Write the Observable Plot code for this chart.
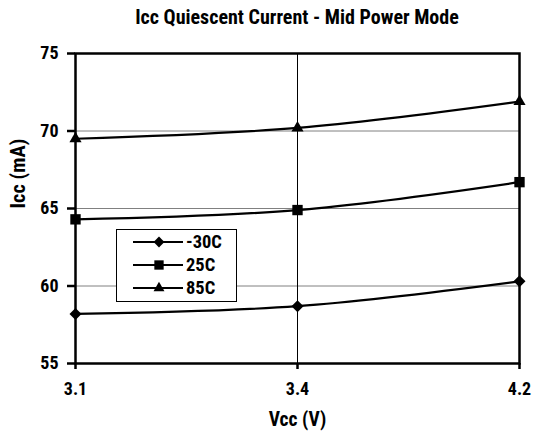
<!DOCTYPE html>
<html>
<head>
<meta charset="utf-8">
<script src="https://cdn.jsdelivr.net/npm/d3@7"></script>
<script src="https://cdn.jsdelivr.net/npm/@observablehq/plot@0.6"></script>
<style>
  body { margin: 0; background: #fff; }
  #wrap { width: 533px; height: 443px; position: relative; font-family: "Roboto Condensed", Roboto, sans-serif; }
  #title { height: 40px; width: 533px; box-sizing: border-box; padding-left: 61px; text-align: center; font-weight: bold; font-size: 20px; line-height: 34px; color: #000; }
  svg text { font-family: "Roboto Condensed", Roboto, sans-serif; }
</style>
</head>
<body>
<div id="wrap">
  <div id="title">Icc Quiescent Current - Mid Power Mode</div>
  <div id="chart"></div>
</div>
<script>
const vcc = ["3.1", "3.4", "4.2"];
const series = ["-30C", "25C", "85C"];
const iccM30 = [58.2, 58.7, 60.3];
const icc25 = [64.3, 64.9, 66.7];
const icc85 = [69.5, 70.2, 71.9];
const yTicks = [55, 60, 65, 70, 75];
const symbols = ["diamond2", "square2", "triangle2"];
const symbolR = [5.4, 6.6, 5.8];

const values = [iccM30, icc25, icc85];
const data = [];
series.forEach((s, i) => vcc.forEach((v, j) => data.push({series: s, vcc: v, icc: values[i][j]})));

const font = '"Roboto Condensed", Roboto, sans-serif';

const chart = Plot.plot({
  width: 533,
  height: 403,
  marginLeft: 75,
  marginRight: 14,
  marginTop: 13,
  marginBottom: 80,
  style: {fontFamily: font, fontSize: "18px", fontWeight: "bold", color: "#000", background: "#fff"},
  x: {type: "point", domain: vcc, padding: 0},
  y: {domain: [55, 75]},
  symbol: {domain: series, range: symbols},
  marks: [
    Plot.ruleY([60, 65, 70], {stroke: "#808080", strokeWidth: 1}),
    Plot.ruleX(["3.4"], {stroke: "#000", strokeWidth: 1}),
    Plot.axisY({ticks: yTicks, tickSize: 8, tickPadding: 9, strokeWidth: 2.5, label: null}),
    Plot.axisX({tickSize: 6, tickPadding: 13, strokeWidth: 2.5, label: null}),
    Plot.text(["Icc (mA)"], {frameAnchor: "left", dx: -57, rotate: -90, fontSize: 20.5, fontWeight: "bold", fill: "#000"}),
    Plot.text(["Vcc (V)"], {frameAnchor: "bottom", dy: 62, fontSize: 19.5, fontWeight: "bold", fill: "#000"}),
    Plot.frame({stroke: "#000", strokeWidth: 2.5}),
    Plot.line(data, {x: "vcc", y: "icc", z: "series", stroke: "#000", strokeWidth: 2.2, curve: "catmull-rom"}),
    ...series.map((s, i) => Plot.dot(data.filter(d => d.series === s), {x: "vcc", y: "icc", symbol: "series", fill: "#000", stroke: null, r: symbolR[i]}))
  ]
});
document.getElementById("chart").appendChild(chart);

// legend
const svg = d3.select(chart);
const lg = svg.append("g").attr("text-anchor", "start");
lg.append("rect").attr("x", 116.5).attr("y", 189.5).attr("width", 120).attr("height", 72)
  .attr("fill", "#fff").attr("stroke", "#000").attr("stroke-width", 1);
const symMap = {"diamond2": d3.symbolDiamond2, "square2": d3.symbolSquare2, "triangle2": d3.symbolTriangle2};
series.forEach((s, i) => {
  const y = 202 + i * 23;
  const r = symbolR[i] * 0.9;
  lg.append("line").attr("x1", 133).attr("x2", 183).attr("y1", y).attr("y2", y).attr("stroke", "#000").attr("stroke-width", 2);
  lg.append("path").attr("transform", `translate(159,${y})`).attr("d", d3.symbol(symMap[symbols[i]], Math.PI * r * r)()).attr("fill", "#000");
  lg.append("text").attr("x", 186).attr("y", y).attr("dy", "0.35em").attr("text-anchor", "start").attr("font-size", 18.5).attr("font-weight", "bold").attr("font-family", font).text(s);
});
</script>
</body>
</html>
